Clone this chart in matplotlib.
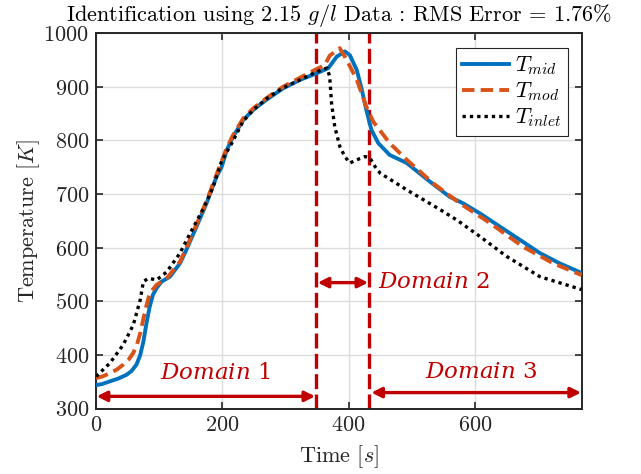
import matplotlib
matplotlib.use("Agg")
import matplotlib.pyplot as plt

plt.rcParams['font.family'] = 'cmr10'
plt.rcParams['mathtext.fontset'] = 'cm'
plt.rcParams['axes.formatter.use_mathtext'] = True

# ---- data ----
t_mid = [0, 10, 22, 35, 48, 56, 64, 70, 75, 80, 85, 90, 96, 104, 117, 133, 143, 159, 175, 191, 199, 207, 217,
         233, 249, 270, 296, 323, 349, 368, 381, 394, 402, 413, 421, 428, 436, 447, 465, 492, 529,
         560, 581, 608, 640, 671, 703, 734, 769]
T_mid = [344, 346, 351, 356, 363, 370, 382, 400, 425, 460, 490, 512, 525, 537, 546, 571, 596, 639, 683, 733, 751, 782, 807,
         838, 857, 876, 897, 913, 925, 935, 956, 966, 959, 931, 894, 857, 820, 795, 773, 758, 723,
         695, 683, 664, 639, 615, 590, 571, 553]

t_mod = [0, 10, 22, 33, 43, 52, 59, 65, 70, 78, 85, 96, 112, 133, 143, 159, 175, 191, 207, 217, 233, 249, 270, 296,
         323, 349, 362, 370, 386, 397, 413, 428, 439, 465, 492, 534, 576, 624, 676, 724, 769]
T_mod = [357, 360, 366, 373, 382, 392, 404, 420, 441, 484, 515, 531, 543, 574, 600, 643, 687, 737, 786, 810,
         841, 860, 879, 900, 917, 933, 940, 958, 972, 950, 913, 863, 835, 795, 764, 720, 683, 646, 602, 571, 549]

t_inlet = [0, 22, 43, 59, 70, 75, 83, 96, 112, 133, 149, 170, 185, 199, 215, 233, 249, 270, 296, 323,
           349, 366, 370, 373, 378, 386, 394, 402, 413, 426, 434, 442, 450, 492, 545, 571, 608,
           650, 703, 769]
T_inlet = [360, 385, 419, 456, 503, 537, 543, 540, 555, 590, 627, 673, 712, 762, 795, 836, 857, 878, 898, 913,
           928, 935, 919, 869, 826, 789, 770, 758, 764, 770, 767, 751, 739, 708, 671, 652, 621,
           584, 546, 522]

domain_bounds = [0, 349, 433, 770]
domain_labels = ['Domain\\ 1', 'Domain\\ 2', 'Domain\\ 3']

# ---- figure ----
fig = plt.figure(figsize=(6.41, 4.74), dpi=100)
ax = fig.add_axes([0.1498, 0.1378, 0.7586, 0.7922])

red = '#C00000'
ax.axvline(domain_bounds[1], color=red, lw=2.4, ls=(0, (4.5, 1.6)), zorder=2)
ax.axvline(domain_bounds[2], color=red, lw=2.4, ls=(0, (4.5, 1.6)), zorder=2)

ax.plot(t_mid, T_mid, color='#0072BD', lw=2.8, label=r'$T_{mid}$', zorder=3)
ax.plot(t_mod, T_mod, color='#D95319', lw=2.8, ls=(0, (3.2, 1.6)), label=r'$T_{mod}$', zorder=4)
ax.plot(t_inlet, T_inlet, color='black', lw=2.4, ls=(0, (1, 1.2)), label=r'$T_{inlet}$', zorder=5)

arrow_y = [323, 535, 330]
arrow_x = [(1, 347), (351, 431), (436, 768)]
for (x0, x1), y in zip(arrow_x, arrow_y):
    ax.annotate('', xy=(x0, y), xytext=(x1, y),
                arrowprops=dict(arrowstyle='<|-|>', color=red, lw=2.4,
                                mutation_scale=15, shrinkA=0, shrinkB=0), zorder=6)

text_pos = [(188, 367), (535, 537), (609, 369)]
for (x, y), lab in zip(text_pos, domain_labels):
    ax.text(x, y, '$' + lab + '$', color=red, fontsize=16.5, ha='center', va='center',
            math_fontfamily='dejavuserif', zorder=7)

ax.set_xlim(0, 770)
ax.set_ylim(300, 1000)
ax.set_xticks([0, 200, 400, 600])
ax.set_yticks(range(300, 1001, 100))
ax.grid(True, color='#DCDCDC', lw=1.0)
ax.set_axisbelow(True)
ax.tick_params(direction='in', length=5, width=1.2, top=True, right=True, labelsize=16, pad=5,
               colors='#262626')
for s in ax.spines.values():
    s.set_linewidth(1.4)
    s.set_color('#262626')

ax.set_xlabel(r'Time $[s]$', fontsize=16, color='#262626', labelpad=6)
ax.set_ylabel(r'Temperature $[K]$', fontsize=16, color='#262626', labelpad=1)
ax.set_title(r'Identification using 2.15 $g/l$ Data : RMS Error = 1.76%', fontsize=16, pad=9)

leg = ax.legend(loc='upper right', fontsize=16, handlelength=2.1, borderaxespad=0.65,
                fancybox=False, framealpha=1, edgecolor='#262626', borderpad=0.3,
                labelspacing=0.15, handletextpad=0.25)
leg.get_frame().set_linewidth(0.8)

fig.savefig('out.png', dpi=100)
